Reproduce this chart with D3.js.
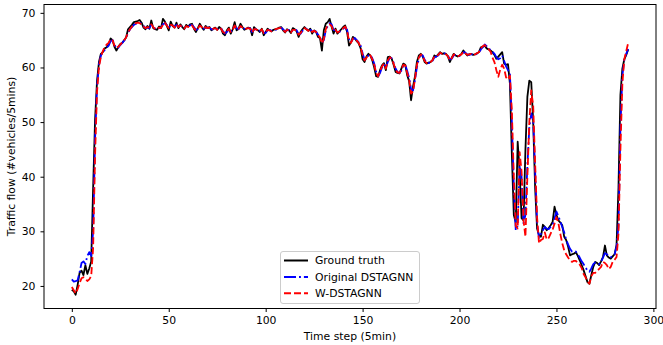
<!DOCTYPE html>
<html>
<head>
<meta charset="utf-8">
<script src="https://cdn.jsdelivr.net/npm/d3@7"></script>
<style>
  body { margin: 0; background: #fff; }
  svg { display: block; font-family: "DejaVu Sans", sans-serif; }
</style>
</head>
<body>
<svg id="chart" width="663" height="345"></svg>
<script>
// 数据: 每 5 分钟一个时间步, 共 288 步
const groundTruth = [
  19.3, 19.0, 18.4, 20.2, 22.4, 22.8, 22.0, 23.8, 22.2, 23.2,
  24.5, 38.0, 50.5, 57.5, 61.0, 62.5, 62.8, 63.5, 63.7, 64.2,
  65.3, 65.0, 63.8, 63.1, 63.8, 64.3, 64.5, 65.0, 65.5, 67.0,
  67.4, 67.8, 68.3, 68.4, 68.5, 68.7, 68.2, 67.3, 67.0, 67.6,
  67.1, 68.6, 67.2, 67.0, 66.9, 67.5, 67.2, 68.9, 68.4, 67.6,
  66.8, 68.4, 67.6, 67.3, 68.2, 67.2, 67.9, 67.4, 67.0, 67.8,
  67.5, 67.9, 68.0, 67.1, 66.5, 67.2, 68.0, 67.4, 66.9, 67.6,
  67.2, 67.4, 66.8, 67.1, 67.3, 66.9, 67.4, 67.1, 66.2, 65.9,
  66.8, 67.3, 66.2, 67.0, 68.3, 66.8, 67.1, 68.0, 67.4, 66.9,
  67.1, 67.3, 67.2, 65.9, 67.4, 67.0, 66.8, 66.5, 67.1, 65.9,
  66.5, 67.1, 66.8, 66.6, 66.9, 67.0, 67.1, 67.3, 67.4, 66.8,
  66.4, 67.0, 66.8, 66.3, 67.2, 67.0, 66.6, 65.6, 66.5, 67.0,
  67.4, 67.0, 66.7, 67.1, 66.2, 66.8, 66.5, 65.6, 65.4, 63.1,
  66.8, 68.0, 68.3, 68.9, 67.5, 66.2, 67.1, 66.2, 66.6, 67.0,
  67.4, 67.7, 66.5, 64.0, 64.6, 65.6, 65.3, 64.8, 64.4, 63.5,
  61.5, 61.0, 62.0, 62.5, 62.2, 61.3, 60.0, 58.4, 58.3, 59.5,
  60.4, 60.8, 59.5, 61.9, 62.0, 61.6, 60.5, 59.2, 59.0, 58.9,
  59.8, 60.7, 60.5, 58.6, 57.5, 54.0, 56.5, 58.3, 61.0, 62.2,
  62.5, 62.0, 61.0, 60.7, 60.9, 61.0, 61.3, 62.2, 62.0, 62.4,
  62.8, 62.5, 62.6, 62.5, 62.0, 61.0, 61.8, 62.5, 62.2, 62.0,
  62.2, 62.5, 63.1, 62.6, 62.2, 62.4, 62.5, 62.3, 62.4, 62.6,
  62.8, 63.7, 63.8, 64.0, 63.5, 63.3, 63.1, 62.8, 62.3, 61.6,
  62.0, 62.4, 62.8, 60.7, 60.5, 60.6, 57.0, 44.0, 33.0, 31.6,
  46.4, 41.0, 32.4, 32.0, 45.0, 54.6, 57.6, 57.3, 50.0, 38.0,
  30.5, 29.3, 29.0, 31.2, 30.8, 30.2, 30.6, 31.1, 31.7, 34.5,
  33.0, 32.0, 31.6, 31.1, 29.0, 28.4, 27.2, 25.6, 25.8, 25.9,
  26.2, 25.5, 24.7, 23.8, 22.9, 21.8, 20.7, 20.4, 22.0, 23.5,
  24.4, 24.2, 23.8, 24.5, 25.3, 27.4, 25.6, 25.2, 25.0, 25.4,
  25.8, 27.5, 38.0, 55.0, 59.8, 61.5, 62.3, 63.3
]

const originalDstagnn = [
  21.2, 20.8, 20.9, 21.0, 22.5, 24.2, 24.5, 24.0, 25.5, 26.2,
  25.5, 30.0, 47.0, 56.5, 60.5, 62.2, 62.8, 63.2, 63.6, 64.0,
  64.8, 65.0, 64.2, 63.5, 63.6, 64.1, 64.5, 64.9, 65.4, 66.3,
  67.0, 67.4, 67.8, 68.0, 68.1, 68.2, 68.0, 67.6, 67.2, 67.3,
  67.2, 67.8, 67.5, 67.1, 67.0, 67.2, 67.3, 67.9, 68.1, 67.8,
  67.3, 67.7, 67.8, 67.4, 67.8, 67.5, 67.6, 67.5, 67.2, 67.5,
  67.5, 67.7, 67.8, 67.4, 66.9, 67.0, 67.6, 67.5, 67.1, 67.3,
  67.3, 67.3, 67.0, 67.0, 67.2, 67.0, 67.2, 67.2, 66.6, 66.2,
  66.5, 67.0, 66.6, 66.8, 67.6, 67.2, 67.0, 67.5, 67.5, 67.1,
  67.0, 67.2, 67.2, 66.5, 66.9, 67.1, 66.9, 66.7, 66.9, 66.4,
  66.3, 66.8, 66.9, 66.7, 66.8, 66.9, 67.0, 67.2, 67.3, 67.0,
  66.6, 66.8, 66.9, 66.5, 66.8, 67.0, 66.8, 66.1, 66.2, 66.7,
  67.1, 67.1, 66.8, 66.9, 66.6, 66.6, 66.6, 66.0, 65.6, 64.6,
  65.0, 66.8, 67.6, 68.1, 67.9, 66.9, 66.8, 66.5, 66.5, 66.8,
  67.1, 67.4, 66.9, 65.2, 64.6, 65.2, 65.4, 65.0, 64.6, 64.0,
  62.6, 61.4, 61.6, 62.2, 62.3, 61.7, 60.7, 59.2, 58.4, 59.0,
  60.0, 60.6, 60.0, 61.0, 61.8, 61.7, 60.9, 59.8, 59.2, 59.0,
  59.4, 60.3, 60.5, 59.4, 58.1, 56.0, 55.8, 57.6, 60.0, 61.6,
  62.3, 62.2, 61.4, 60.9, 60.8, 60.9, 61.2, 61.8, 62.0, 62.2,
  62.6, 62.6, 62.6, 62.5, 62.2, 61.5, 61.6, 62.2, 62.3, 62.1,
  62.1, 62.3, 62.8, 62.7, 62.4, 62.3, 62.4, 62.4, 62.3, 62.5,
  62.7, 63.3, 63.7, 64.2, 63.9, 63.5, 63.2, 62.9, 62.5, 61.9,
  61.5, 61.7, 62.2, 61.2, 60.2, 59.5, 58.8, 50.0, 38.0, 30.2,
  31.0, 42.0, 40.0, 31.5, 33.0, 42.0, 49.0, 51.6, 50.5, 41.0,
  31.5, 28.8, 29.5, 30.2, 30.8, 30.5, 30.4, 30.8, 31.2, 32.4,
  33.6, 32.8, 31.8, 30.8, 29.8, 28.5, 27.6, 26.8, 26.3, 26.2,
  26.3, 25.8, 25.2, 24.5, 24.0, 23.4, 22.8, 22.6, 23.2, 24.0,
  24.3, 24.2, 24.0, 24.4, 25.2, 26.0, 25.8, 25.4, 25.3, 25.4,
  25.8, 27.2, 31.0, 49.0, 58.5, 61.4, 62.5, 63.4
]

const wDstagnn = [
  19.8, 19.2, 18.6, 19.4, 20.5, 21.4, 21.6, 21.3, 20.9, 21.2,
  21.8, 27.0, 44.0, 55.5, 60.0, 62.0, 63.0, 63.8, 64.2, 64.5,
  65.2, 65.0, 64.0, 63.6, 63.8, 64.2, 64.6, 65.0, 65.5, 66.4,
  67.0, 67.5, 67.8, 68.1, 68.2, 68.1, 67.9, 67.5, 67.2, 67.4,
  67.3, 67.9, 67.4, 67.0, 67.1, 67.3, 67.2, 67.8, 68.2, 67.7,
  67.2, 67.8, 67.7, 67.3, 67.9, 67.4, 67.7, 67.4, 67.1, 67.6,
  67.4, 67.8, 67.7, 67.2, 66.8, 67.1, 67.7, 67.4, 67.0, 67.4,
  67.2, 67.3, 66.9, 67.1, 67.2, 66.9, 67.3, 67.1, 66.5, 66.3,
  66.6, 67.1, 66.5, 66.9, 67.7, 67.0, 67.1, 67.6, 67.3, 67.0,
  67.1, 67.2, 67.1, 66.4, 67.0, 67.0, 66.8, 66.6, 67.0, 66.3,
  66.4, 66.9, 66.8, 66.6, 66.9, 67.0, 67.1, 67.2, 67.2, 66.9,
  66.5, 66.9, 66.8, 66.4, 66.9, 66.9, 66.7, 66.0, 66.3, 66.8,
  67.2, 67.0, 66.7, 67.0, 66.5, 66.7, 66.5, 65.9, 65.5, 64.4,
  65.2, 67.0, 67.8, 67.9, 67.6, 66.7, 66.9, 66.4, 66.6, 66.9,
  67.2, 67.5, 66.7, 64.9, 64.5, 65.3, 65.2, 64.9, 64.5, 63.7,
  62.3, 61.3, 61.8, 62.3, 62.2, 61.5, 60.5, 59.0, 58.4, 59.3,
  60.2, 60.7, 59.8, 61.3, 61.9, 61.6, 60.7, 59.6, 59.1, 59.0,
  59.6, 60.5, 60.4, 59.0, 57.8, 55.2, 55.6, 57.8, 60.4, 61.8,
  62.4, 62.1, 61.2, 60.8, 60.9, 61.0, 61.3, 62.0, 62.0, 62.3,
  62.7, 62.5, 62.6, 62.4, 62.1, 61.3, 61.7, 62.4, 62.2, 62.0,
  62.2, 62.4, 62.9, 62.6, 62.3, 62.4, 62.5, 62.3, 62.4, 62.6,
  62.8, 63.5, 63.9, 64.1, 63.7, 63.4, 62.9, 61.8, 61.0, 59.5,
  58.3, 59.6, 60.5, 59.8, 58.2, 57.8, 58.5, 52.0, 40.0, 31.0,
  30.5, 44.5, 41.0, 32.0, 29.0, 40.0, 50.0, 55.8, 53.0, 42.5,
  32.6, 27.8, 28.4, 28.6, 29.8, 28.5, 28.8, 29.6, 30.3, 31.4,
  32.6, 31.5, 29.5, 27.8, 26.5, 25.8, 25.2, 24.7, 24.4, 24.6,
  24.6, 24.2, 23.9, 23.3, 22.2, 21.6, 20.8, 20.4, 21.8, 22.4,
  22.4, 22.8, 23.1, 23.5, 24.4, 24.2, 23.8, 23.1, 23.5, 24.4,
  24.8, 25.3, 29.6, 45.0, 57.0, 61.5, 63.0, 64.5
]

const seriesNames = ['Ground truth', 'Original DSTAGNN', 'W-DSTAGNN']
const xTicks = [0, 50, 100, 150, 200, 250, 300]
const yTicks = [20, 30, 40, 50, 60, 70]

const width = 663
const height = 345
const margin = { top: 4.5, right: 7, bottom: 36.5, left: 44 }
const fontSize = '10.8px'

const svg = d3.select('#chart')

// 坐标轴范围 (与 matplotlib 默认 5% 边距一致)
const x = d3.scaleLinear()
  .domain([-14.35, 301.35])
  .range([margin.left, width - margin.right])

const y = d3.scaleLinear()
  .domain([15.87, 71.53])
  .range([height - margin.bottom, margin.top])

const series = [
  { name: seriesNames[0], values: groundTruth, color: '#000000', dash: null },
  { name: seriesNames[1], values: originalDstagnn, color: '#0000ff', dash: '12,3,1.9,3' },
  { name: seriesNames[2], values: wDstagnn, color: '#ff0000', dash: '7,3' }
]

const line = d3.line()
  .x((d, i) => x(i))
  .y(d => y(d))

// 绘制曲线
const plot = svg.append('g')

series.forEach(s => {
  plot.append('path')
    .datum(s.values)
    .attr('d', line)
    .style('fill', 'none')
    .style('stroke', s.color)
    .style('stroke-width', 1.8)
    .style('stroke-dasharray', s.dash)
    .style('stroke-linejoin', 'round')
})

// 边框
svg.append('rect')
  .attr('x', margin.left)
  .attr('y', margin.top)
  .attr('width', width - margin.left - margin.right)
  .attr('height', height - margin.top - margin.bottom)
  .style('fill', 'none')
  .style('stroke', '#000')
  .style('stroke-width', 1)

// x 轴
const xAxis = svg.append('g')
  .attr('transform', `translate(0, ${height - margin.bottom})`)
  .call(d3.axisBottom(x).tickValues(xTicks).tickSize(3.5).tickPadding(4.5).tickFormat(d3.format('d')))

xAxis.select('.domain').remove()

// y 轴
const yAxis = svg.append('g')
  .attr('transform', `translate(${margin.left}, 0)`)
  .call(d3.axisLeft(y).tickValues(yTicks).tickSize(3.5).tickPadding(5).tickFormat(d3.format('d')))

yAxis.select('.domain').remove()

svg.selectAll('.tick line').style('stroke', '#000').style('stroke-width', 1)
svg.selectAll('.tick text')
  .style('font-family', '"DejaVu Sans", sans-serif')
  .style('font-size', fontSize)
  .style('fill', '#000')

// 轴标题
svg.append('text')
  .attr('x', (margin.left + width - margin.right) / 2)
  .attr('y', 339.5)
  .attr('text-anchor', 'middle')
  .style('font-size', fontSize)
  .text('Time step (5min)')

svg.append('text')
  .attr('transform', `translate(15, ${(margin.top + height - margin.bottom) / 2}) rotate(-90)`)
  .attr('text-anchor', 'middle')
  .style('font-size', fontSize)
  .text('Traffic flow (#vehicles/5mins)')

// 图例
const legend = svg.append('g').attr('transform', 'translate(280, 251)')

legend.append('rect')
  .attr('x', 0.5)
  .attr('y', 0.5)
  .attr('width', 139)
  .attr('height', 52)
  .attr('rx', 2.5)
  .style('fill', '#fff')
  .style('fill-opacity', 0.8)
  .style('stroke', '#cccccc')
  .style('stroke-width', 1)

const rows = legend.selectAll('.row')
  .data(series)
  .enter()
  .append('g')
  .attr('class', 'row')
  .attr('transform', (d, i) => `translate(0, ${9.5 + i * 16.4})`)

rows.append('line')
  .attr('x1', 4)
  .attr('x2', 28)
  .style('stroke', d => d.color)
  .style('stroke-width', 2)
  .style('stroke-dasharray', d => d.dash)

rows.append('text')
  .attr('x', 35)
  .attr('y', 3.9)
  .style('font-size', fontSize)
  .text(d => d.name)
</script>
</body>
</html>
